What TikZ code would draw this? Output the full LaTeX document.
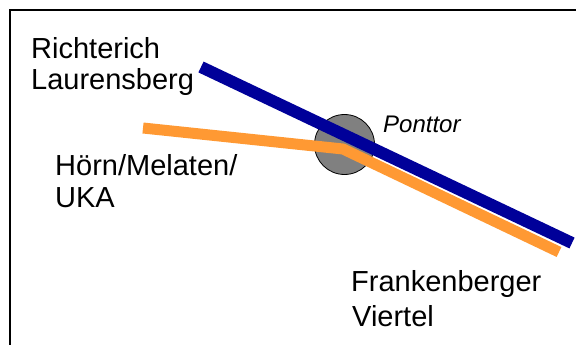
\documentclass[tikz,border=0pt]{standalone}
\usepackage{fontspec}
\setmainfont{Liberation Sans}
\definecolor{routeblue}{HTML}{000099}
\definecolor{routeorange}{HTML}{FF9933}
\definecolor{stopgray}{HTML}{808080}
\tikzset{
  lbl/.style={anchor=base west, inner sep=0pt, font=\fontsize{29}{32}\selectfont},
  stoplbl/.style={anchor=base west, inner sep=0pt, font=\fontsize{24}{27}\selectfont\itshape},
  frameline/.style={line width=1.5pt, black},
  blueroute/.style={line width=12pt, routeblue, line cap=butt},
  orangeroute/.style={line width=11pt, routeorange, line cap=butt, line join=round},
  stopcircle/.style={circle, draw=black, line width=0.8pt, fill=stopgray, minimum size=60pt, inner sep=0pt}
}
\begin{document}
\begin{tikzpicture}[x=1pt,y=-1pt]
\useasboundingbox (0,0) rectangle (576,345);
% frame (only top and left edges visible)
\coordinate (fbl) at (10,345);
\coordinate (ftl) at (10,10);
\coordinate (ftr) at (576,10);
\draw[frameline] (fbl) -- (ftl) -- (ftr);
% stop
\node[stopcircle] (ponttor) at (344.5,144.5) {};
% route coordinates
\coordinate (os) at (143,128);
\coordinate (ob) at (343,149);
\coordinate (oe) at (559,252);
\coordinate (bs) at (201,67);
\coordinate (be) at (572,243);
\draw[orangeroute] (os) -- (ob) -- (oe);
\draw[blueroute] (bs) -- (be);
% labels
\node[lbl] (rich) at (31,59) {Richterich};
\node[lbl] (laur) at (31,89) {Laurensberg};
\node[lbl] (hoern) at (55,175) {Hörn/Melaten/};
\node[lbl] (uka) at (55,207) {UKA};
\node[lbl] (frank) at (351,291) {Frankenberger};
\node[lbl] (viert) at (352,326) {Viertel};
\node[stoplbl] (pont) at (383,132) {Ponttor};
\end{tikzpicture}
\end{document}
